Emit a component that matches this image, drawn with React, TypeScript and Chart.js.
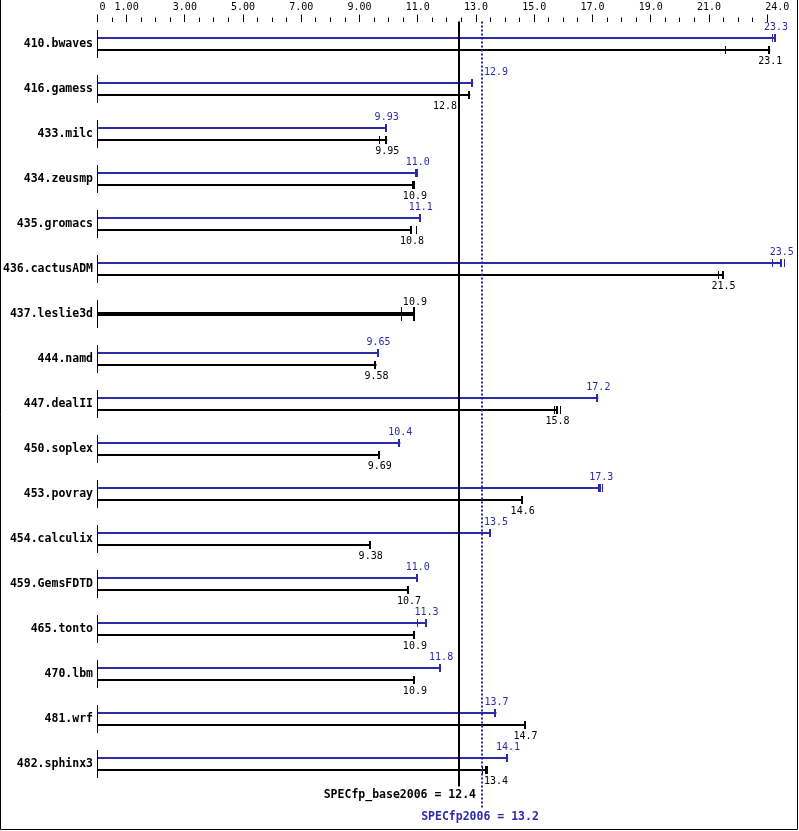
import React, { useEffect, useRef } from 'react';
import { Chart, registerables } from 'chart.js';

Chart.register(...registerables);

// ---------- data ----------
const benchmarks = [
  '410.bwaves', '416.gamess', '433.milc', '434.zeusmp', '435.gromacs',
  '436.cactusADM', '437.leslie3d', '444.namd', '447.dealII', '450.soplex',
  '453.povray', '454.calculix', '459.GemsFDTD', '465.tonto', '470.lbm',
  '481.wrf', '482.sphinx3',
];

// peak (blue) – null where peak equals base (single combined bar)
const peakValues: (number | null)[] = [
  23.3, 12.9, 9.93, 11.0, 11.1, 23.5, null, 9.65, 17.2, 10.4, 17.3, 13.5, 11.0, 11.3, 11.8, 13.7, 14.1,
];
// base (black)
const baseValues: number[] = [
  23.1, 12.8, 9.95, 10.9, 10.8, 21.5, 10.9, 9.58, 15.8, 9.69, 14.6, 9.38, 10.7, 10.9, 10.9, 14.7, 13.4,
];

// individual run results (tick marks on the bars)
const peakRuns: number[][] = [
  [23.2, 23.3, 23.3], [12.9, 12.9, 12.9], [9.93, 9.93, 9.93], [10.94, 11.0, 11.0], [11.1, 11.1, 11.1],
  [23.2, 23.5, 23.6], [], [9.65, 9.65, 9.65], [17.2, 17.2, 17.2], [10.4, 10.4, 10.4],
  [17.22, 17.3, 17.36], [13.5, 13.5, 13.5], [11.0, 11.0, 11.0], [11.0, 11.3, 11.3], [11.8, 11.8, 11.8],
  [13.65, 13.7, 13.7], [14.1, 14.1, 14.1],
];
const baseRuns: number[][] = [
  [21.6, 23.1, 23.1], [12.8, 12.8, 12.8], [9.7, 9.95, 9.95], [10.84, 10.9, 10.9], [10.8, 10.8, 10.97],
  [21.35, 21.5, 21.5], [10.45, 10.9, 10.9], [9.58, 9.58, 9.58], [15.7, 15.8, 15.9], [9.69, 9.69, 9.69],
  [14.6, 14.6, 14.6], [9.38, 9.38, 9.38], [10.65, 10.7, 10.7], [10.9, 10.9, 10.9], [10.9, 10.9, 10.9],
  [14.7, 14.7, 14.7], [13.25, 13.35, 13.4],
];

const axisTickValues = [0, 1, 3, 5, 7, 9, 11, 13, 15, 17, 19, 21, 24];
const axisTickLabels = ['0', '1.00', '3.00', '5.00', '7.00', '9.00', '11.0', '13.0', '15.0', '17.0', '19.0', '21.0', '24.0'];
const axisMax = 24;
const minorTickLast = 23;

const baseMean = 12.4;
const peakMean = 13.2;

// ---------- style ----------
const BLUE = '#2b2ba8';
const BLACK = '#000000';
const MONO = "'DejaVu Sans Mono', 'Liberation Mono', monospace";
const LABEL_FONT = `bold 11.5px ${MONO}`;

const fmt = (v: number) => v.toPrecision(3);

function placeLabel(cx: number, w: number, obstacles: number[]): number {
  const clear = (c: number) => obstacles.every((o) => o < c - w / 2 - 1 || o > c + w / 2 + 1);
  if (clear(cx)) return cx;
  const cands: number[] = [];
  obstacles.forEach((o) => {
    cands.push(o - 2 - w / 2);
    cands.push(o + 2 + w / 2);
  });
  let best = cx;
  let bestD = Infinity;
  cands
    .filter(clear)
    .sort((a, b) => a - b)
    .forEach((c) => {
      const d = Math.abs(c - cx);
      if (d < bestD - 1) {
        bestD = d;
        best = c;
      }
    });
  return best;
}

const specPlugin = {
  id: 'specPlugin',
  beforeDraw(chart: any) {
    const { ctx, width, height } = chart;
    ctx.save();
    ctx.fillStyle = '#ffffff';
    ctx.fillRect(0, 0, width, height);
    ctx.restore();
  },
  afterDatasetsDraw(chart: any) {
    const { ctx, chartArea, scales } = chart;
    const xs = scales.x;
    const ys = scales.y;
    const left = chartArea.left;
    const baseX = Math.round(xs.getPixelForValue(baseMean));
    const peakX = Math.round(xs.getPixelForValue(peakMean));
    ctx.save();

    // row axis segments
    ctx.strokeStyle = BLACK;
    ctx.lineWidth = 1;
    const ax = Math.floor(left) + 0.5;
    benchmarks.forEach((_, i) => {
      const cy = ys.getPixelForValue(i);
      ctx.beginPath();
      ctx.moveTo(ax, cy - 14);
      ctx.lineTo(ax, cy + 14);
      ctx.stroke();
    });

    // category labels
    ctx.fillStyle = BLACK;
    ctx.font = LABEL_FONT;
    ctx.textAlign = 'right';
    ctx.textBaseline = 'middle';
    benchmarks.forEach((b, i) => {
      ctx.fillText(b, left - 4.5, ys.getPixelForValue(i));
    });

    // top axis ticks
    const top = chartArea.top;
    for (let v = 0; v <= minorTickLast + 1e-9; v += 0.5) {
      const major = v === 0 || Math.abs(v % 2) === 1;
      const px = Math.floor(xs.getPixelForValue(v)) + 0.5;
      ctx.beginPath();
      ctx.moveTo(px, major ? top - 7 : top - 4);
      ctx.lineTo(px, top + 0.5);
      ctx.stroke();
    }
    ctx.font = `10px ${MONO}`;
    ctx.textAlign = 'center';
    axisTickValues.forEach((v, i) => {
      const lab = axisTickLabels[i];
      const w = ctx.measureText(lab).width;
      let cx = xs.getPixelForValue(v);
      cx = Math.max(cx, left + 5);
      cx = Math.min(cx, chartArea.right - w / 2 - 7);
      ctx.fillText(lab, cx, top - 14);
    });

    // run ticks
    const drawRuns = (dsIndex: number, runs: number[][], values: (number | null)[], color: string) => {
      const meta = chart.getDatasetMeta(dsIndex);
      ctx.fillStyle = color;
      values.forEach((val, i) => {
        if (val === null) return;
        const el = meta.data[i];
        const h = el.height * 1.5 + 1;
        runs[i].forEach((r) => {
          const px = Math.round(xs.getPixelForValue(r));
          ctx.fillRect(px - 1, el.y - h, 1, 2 * h);
        });
        const ex = Math.round(xs.getPixelForValue(val));
        ctx.fillRect(ex - 2, el.y - h, 2, 2 * h);
      });
    };
    drawRuns(0, peakRuns, peakValues, BLUE);
    drawRuns(1, baseRuns, baseValues, BLACK);

    // reference lines
    ctx.strokeStyle = BLACK;
    ctx.lineWidth = 2;
    ctx.setLineDash([]);
    ctx.beginPath();
    ctx.moveTo(baseX, top);
    ctx.lineTo(baseX, chartArea.bottom);
    ctx.stroke();

    ctx.strokeStyle = BLUE;
    ctx.setLineDash([2, 2]);
    ctx.beginPath();
    ctx.moveTo(peakX, top);
    ctx.lineTo(peakX, chartArea.bottom + 22);
    ctx.stroke();
    ctx.setLineDash([]);

    // value labels
    ctx.font = `10px ${MONO}`;
    ctx.textAlign = 'center';
    ctx.textBaseline = 'middle';
    const obstacles = [baseX, peakX];
    const peakMeta = chart.getDatasetMeta(0);
    const baseMeta = chart.getDatasetMeta(1);
    benchmarks.forEach((_, i) => {
      const pv = peakValues[i];
      const bv = baseValues[i];
      if (pv !== null) {
        const el = peakMeta.data[i];
        const t = fmt(pv);
        const w = ctx.measureText(t).width;
        const cx = placeLabel(xs.getPixelForValue(pv), w, obstacles);
        ctx.fillStyle = BLUE;
        ctx.fillText(t, cx, el.y - 11);
      }
      const el = baseMeta.data[i];
      const t = fmt(bv);
      const w = ctx.measureText(t).width;
      const cx = placeLabel(xs.getPixelForValue(bv), w, obstacles);
      ctx.fillStyle = BLACK;
      ctx.fillText(t, cx, pv === null ? el.y - 11.5 : el.y + 11);
    });

    // summary labels
    ctx.font = `bold 11.5px ${MONO}`;
    ctx.fillStyle = BLACK;
    ctx.textAlign = 'right';
    ctx.fillText(`SPECfp_base2006 = ${baseMean.toFixed(1)}`, peakX - 6, chartArea.bottom + 9);
    ctx.fillStyle = BLUE;
    ctx.textAlign = 'center';
    ctx.fillText(`SPECfp2006 = ${peakMean.toFixed(1)}`, peakX - 2, chartArea.bottom + 31);

    ctx.restore();
  },
  afterDraw(chart: any) {
    const { ctx, width, height } = chart;
    ctx.save();
    ctx.strokeStyle = BLACK;
    ctx.lineWidth = 1;
    ctx.beginPath();
    ctx.moveTo(0.5, 0);
    ctx.lineTo(0.5, height - 1.5);
    ctx.lineTo(width - 1.5, height - 1.5);
    ctx.lineTo(width - 1.5, 0);
    ctx.stroke();
    ctx.restore();
  },
};

export default function App() {
  const ref = useRef<HTMLCanvasElement>(null);
  useEffect(() => {
    document.body.style.margin = '0';
    const canvas = ref.current;
    if (!canvas) return;
    const chart = new Chart(canvas, {
      type: 'bar',
      data: {
        labels: benchmarks,
        datasets: [
          {
            label: 'peak',
            data: peakValues as any,
            backgroundColor: BLUE,
            borderWidth: 0,
            barPercentage: 1 / 6,
            categoryPercentage: 24 / 45,
            skipNull: true,
          } as any,
          {
            label: 'base',
            data: baseValues,
            backgroundColor: BLACK,
            borderWidth: 0,
            barPercentage: 1 / 6,
            categoryPercentage: 24 / 45,
            skipNull: true,
          } as any,
        ],
      },
      options: {
        indexAxis: 'y',
        animation: false,
        responsive: false,
        devicePixelRatio: 1,
        events: [],
        layout: { padding: { left: 97.5, right: 799 - (97.5 + axisMax * 29.12), top: 21.5, bottom: 44.5 } },
        scales: {
          x: { type: 'linear', min: 0, max: axisMax, display: false },
          y: { type: 'category', display: false, offset: true },
        },
        plugins: { legend: { display: false }, tooltip: { enabled: false }, title: { display: false } },
      },
      plugins: [specPlugin],
    } as any);
    return () => chart.destroy();
  }, []);
  return (
    <div style={{ position: 'absolute', left: 0, top: 0, width: 799, height: 831 }}>
      <canvas ref={ref} width={799} height={831} style={{ display: 'block' }} />
    </div>
  );
}
